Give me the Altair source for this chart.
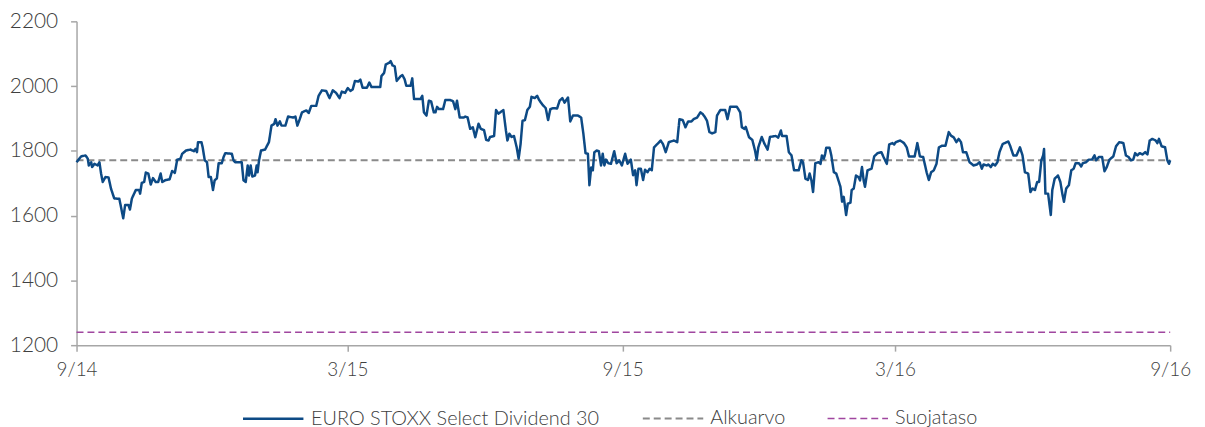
import altair as alt
import pandas as pd

# Days since 2014-09-01 and index levels
days = [
    0, 3.1, 6.0, 7.5, 8.2, 9.8, 10.4, 12.0, 14.1, 15.3,
    16.4, 17.5, 19.3, 21.4, 23.0, 25.2, 28.6, 29.7, 31.2, 32.5,
    34.7, 35.7, 37.0, 39.6, 41.8, 42.5, 43.6, 45.2, 46.3, 48.0,
    49.6, 51.1, 52.9, 54.6, 56.2, 57.3, 59.6, 62.2, 63.9, 65.7,
    67.3, 69.5, 70.6, 73.2, 76.2, 78.4, 79.5, 80.5, 81.2, 83.5,
    84.3, 85.7, 87.2, 88.3, 89.8, 91.2, 92.3, 93.8, 95.0, 97.1,
    98.3, 99.4, 103.8, 104.9, 106.0, 110.4, 111.6, 113.1, 114.4, 115.3,
    116.4, 117.5, 119.3, 120.4, 121.0, 122.0, 123.3, 126.0, 128.6, 130.3,
    132.1, 133.0, 134.3, 135.9, 137.0, 139.6, 141.4, 144.8, 146.3, 147.6,
    149.2, 150.7, 153.6, 155.2, 156.9, 160.2, 161.8, 164.0, 166.9, 169.1,
    171.3, 173.5, 175.8, 177.3, 179.5, 181.3, 183.1, 184.6, 186.1, 188.4,
    189.7, 191.2, 194.1, 195.7, 197.2, 203.0, 203.8, 205.6, 206.7, 209.0,
    210.0, 211.2, 212.7, 214.0,
    216.7, 217.8, 219.3, 220.4, 223.3, 224.4, 225.6, 229.9, 231.1, 232.2,
    233.9, 235.5, 237.0, 238.8, 239.9, 241.0, 242.2, 245.0, 246.5, 249.9,
    251.7, 253.2, 254.3, 256.1, 258.8, 259.8, 261.4, 263.1, 264.9, 266.5,
    268.7, 270.2, 272.4, 273.8, 275.4, 276.4, 279.1, 280.4, 282.0, 285.3,
    287.0, 288.0, 289.3, 290.8, 292.4, 294.2, 295.5, 296.8, 298.1, 299.7,
    301.3, 303.0, 304.1, 306.3, 307.9, 309.2, 311.4, 313.6, 315.2, 316.7,
    318.5, 321.2, 322.9, 324.7, 326.2, 328.5, 330.0, 331.8, 335.1, 337.3,
    338.8, 340.2, 341.8, 342.8, 344.0, 345.1, 346.1, 347.7, 349.1, 350.6,
    351.7, 352.8, 353.9, 355.4, 357.2, 359.4, 361.0, 362.7, 364.5, 366.7,
    368.3, 370.5, 372.0, 373.4, 374.3, 375.6, 377.2, 378.7, 380.0, 381.6,
    383.1, 384.5, 386.0, 388.2, 390.4, 392.0, 393.8, 395.9, 399.3, 401.5,
    403.0, 405.2, 407.0, 408.8, 411.0, 412.5, 414.8, 417.0, 418.5, 419.8,
    421.4, 423.0, 424.8, 427.0, 428.1, 430.3, 433.6, 435.1, 436.9, 441.4,
    443.6, 444.7, 446.4, 447.3, 449.5, 451.7, 453.5, 454.6, 455.7, 458.0,
    459.7, 461.9, 463.5, 467.3, 469.0, 470.8, 471.6, 474.6, 476.1, 477.9,
    479.6,
    482.7, 484.5, 485.6, 487.2, 488.9, 490.0, 491.2, 492.3, 493.8, 496.0,
    497.3, 498.2, 499.5, 500.4, 501.1, 503.3, 504.5, 506.2, 507.8, 508.9,
    510.6, 511.7, 512.8, 514.4, 515.5, 517.3, 518.1, 519.5, 521.0, 522.6,
    523.7, 525.0, 526.1, 527.0, 528.7, 531.4, 533.2, 535.4, 538.0, 539.4,
    541.6, 543.2, 545.3, 546.5, 547.6, 550.5, 553.1, 554.9, 556.4, 560.2,
    562.0, 563.7, 565.9, 568.2, 569.7, 571.2, 573.0, 574.8, 576.4, 578.6,
    580.8, 583.0, 584.5, 586.3, 588.1, 589.6, 591.2, 592.5, 594.7, 596.9,
    599.6, 601.8, 603.6, 605.1, 606.2, 608.4, 609.5, 611.1, 612.4, 614.0,
    615.5, 616.9, 619.0, 622.8, 624.0, 626.2, 628.3, 630.6, 632.3, 633.9,
    636.1, 637.6, 639.0, 640.6, 642.1, 643.4, 644.9, 646.1, 646.7, 647.6,
    649.4, 651.2, 652.2, 653.8, 656.0, 657.6, 658.9, 660.0, 661.5, 663.3,
    664.9, 666.5, 667.8, 670.0, 671.5, 672.6, 674.8, 676.6, 678.8, 680.4,
    681.5, 683.3, 685.5, 687.1, 688.6, 690.4, 693.0, 694.8, 697.0, 699.7,
    701.4, 703.2, 704.7, 706.3, 707.6, 709.1, 710.6, 712.5, 714.3, 715.8,
    717.3, 719.1, 721.3, 722.4, 723.5, 725.3, 727.6, 729.1, 730.2, 731.0,
]

index_values = [
    1765, 1783, 1786, 1776, 1755, 1765, 1750, 1760, 1755, 1765,
    1730, 1704, 1719, 1718, 1684, 1653, 1652, 1627, 1592, 1633,
    1633, 1619, 1653, 1679, 1679, 1668, 1701, 1704, 1733, 1730,
    1696, 1716, 1704, 1704, 1730, 1704, 1710, 1712, 1738, 1732,
    1773, 1776, 1791, 1801, 1804, 1799, 1806, 1796, 1827, 1827,
    1811, 1771, 1765, 1719, 1719, 1679, 1709, 1715, 1762, 1762,
    1781, 1793, 1791, 1771, 1765, 1765, 1709, 1704, 1755, 1724,
    1755, 1721, 1724, 1755, 1734, 1771, 1801, 1804, 1827, 1878,
    1883, 1898, 1878, 1891, 1878, 1878, 1906, 1903, 1906, 1878,
    1898, 1919, 1925, 1917, 1939, 1939, 1970, 1987, 1985, 1963,
    1987, 1979, 1963, 1983, 1979, 1994, 1985, 1990, 2016, 2014,
    2020, 1995, 1995, 2011, 1997, 1997, 2031, 2041, 2067, 2072,
    2077, 2064, 2061, 2016,
    2031, 2034, 2021, 2001, 2001, 2024, 1960, 1960, 1970, 1919,
    1909, 1955, 1953, 1919, 1919, 1936, 1929, 1929, 1957, 1957,
    1953, 1929, 1955, 1903, 1903, 1906, 1903, 1868, 1873, 1842,
    1884, 1868, 1864, 1834, 1832, 1843, 1846, 1926, 1915, 1926,
    1863, 1832, 1853, 1843, 1846, 1811, 1776, 1821, 1893, 1895,
    1926, 1936, 1967, 1963, 1970, 1957, 1943, 1932, 1895, 1929,
    1932, 1931, 1955, 1963, 1949, 1965, 1891, 1909, 1909, 1903,
    1852, 1793, 1791, 1694, 1749, 1740, 1796, 1801, 1799, 1755,
    1791, 1755, 1773, 1762, 1760, 1799, 1762, 1771, 1755, 1791,
    1760, 1773, 1725, 1740, 1694, 1745, 1745, 1710, 1742, 1734,
    1745, 1740, 1811, 1821, 1832, 1821, 1796, 1827, 1832, 1827,
    1898, 1895, 1873, 1891, 1891, 1898, 1903, 1919, 1914, 1906,
    1893, 1858, 1854, 1858, 1909, 1926, 1926, 1898, 1936, 1936,
    1919, 1873, 1868, 1874, 1842, 1834, 1801, 1773, 1811, 1843,
    1823, 1804, 1843, 1846, 1841, 1863, 1846, 1846, 1796, 1786,
    1740,
    1740, 1771, 1765, 1714, 1710, 1730, 1709, 1673, 1762, 1765,
    1760, 1786, 1776, 1791, 1810, 1810, 1786, 1734, 1730, 1714,
    1689, 1643, 1658, 1602, 1637, 1640, 1679, 1684, 1724, 1719,
    1709, 1750, 1709, 1689, 1740, 1745, 1783, 1793, 1796, 1781,
    1760, 1820, 1824, 1820, 1827, 1832, 1824, 1811, 1783, 1783,
    1824, 1783, 1781, 1734, 1710, 1734, 1740, 1760, 1811, 1816,
    1816, 1858, 1847, 1842, 1827, 1837, 1827, 1796, 1796, 1765,
    1755, 1758, 1765, 1745, 1758, 1755, 1758, 1750, 1760, 1755,
    1765, 1796, 1821, 1829, 1816, 1786, 1786, 1811, 1786, 1734,
    1730, 1673, 1684, 1679, 1704, 1704, 1771, 1786, 1806, 1668,
    1668, 1602, 1679, 1714, 1724, 1704, 1668, 1643, 1684, 1694,
    1740, 1745, 1762, 1762, 1752, 1762, 1765, 1773, 1773, 1786,
    1771, 1781, 1781, 1737, 1750, 1773, 1783, 1814, 1827, 1824,
    1786, 1781, 1771, 1773, 1793, 1786, 1793, 1789, 1796, 1789,
    1832, 1837, 1832, 1824, 1837, 1814, 1811, 1771, 1760, 1771,
]

series_names = ["EURO STOXX Select Dividend 30", "Alkuarvo", "Suojataso"]
series_colors = ["#0d4a85", "#8a8a8a", "#a0469f"]
initial_level = 1771
protection_level = 1240
y_ticks = [1200, 1400, 1600, 1800, 2000, 2200]

assert len(days) == len(index_values)

start = pd.Timestamp("2014-09-01")
end = pd.Timestamp("2016-09-01")
main = pd.DataFrame({
    "date": [start + pd.Timedelta(days=d) for d in days],
    "value": index_values,
    "series": series_names[0],
})
refs = pd.DataFrame({
    "date": [start, end, start, end],
    "value": [initial_level, initial_level, protection_level, protection_level],
    "series": [series_names[1]] * 2 + [series_names[2]] * 2,
})
df = pd.concat([refs, main], ignore_index=True)
df["date"] = df["date"].dt.strftime("%Y-%m-%dT%H:%M:%S")

font = "Lato"
text_color = "#404040"
axis_color = "#a6a6a6"

x_ticks = [
    alt.DateTime(year=2014, month=9, date=1),
    alt.DateTime(year=2015, month=3, date=1),
    alt.DateTime(year=2015, month=9, date=1),
    alt.DateTime(year=2016, month=3, date=1),
    alt.DateTime(year=2016, month=9, date=1),
]

legend_kwargs = dict(
    title=None, orient="none", direction="horizontal",
    legendX=166, legendY=368,
    symbolType="stroke", symbolSize=3700, symbolStrokeWidth=2,
    labelFont=font, labelFontSize=20, labelColor=text_color,
    labelFontWeight=300, labelOffset=6, columnPadding=38, labelLimit=500,
)

chart = alt.Chart(df).mark_line(strokeCap="butt", strokeJoin="round").encode(
    x=alt.X(
        "date:T",
        scale=alt.Scale(domain=[x_ticks[0], x_ticks[-1]], nice=False),
        axis=alt.Axis(
            title=None, values=x_ticks, format="%-m/%y", grid=False,
            domainColor=axis_color, tickColor=axis_color, tickSize=6,
            labelFont=font, labelFontSize=19, labelColor=text_color,
            labelPadding=10, labelFontWeight=300, domainWidth=1.5, tickWidth=1.5,
            labelFlush=False, labelOverlap=False,
        ),
    ),
    y=alt.Y(
        "value:Q",
        scale=alt.Scale(domain=[1200, 2200], nice=False, zero=False),
        axis=alt.Axis(
            title=None, values=y_ticks, format="d", grid=False,
            domainColor=axis_color, tickColor=axis_color, tickSize=6,
            labelFont=font, labelFontSize=21, labelColor=text_color,
            labelPadding=13, labelFontWeight=300, domainWidth=1.5, tickWidth=1.5,
        ),
    ),
    color=alt.Color(
        "series:N",
        scale=alt.Scale(domain=series_names, range=series_colors),
        legend=alt.Legend(**legend_kwargs),
    ),
    strokeDash=alt.StrokeDash(
        "series:N",
        scale=alt.Scale(domain=series_names, range=[[1, 0], [7, 4], [7, 4]]),
        legend=alt.Legend(**legend_kwargs),
    ),
    strokeWidth=alt.StrokeWidth(
        "series:N",
        scale=alt.Scale(domain=series_names, range=[2.5, 1.6, 1.6]),
        legend=None,
    ),
    order=alt.Order("date:T"),
).properties(
    width=1101,
    height=326,
    autosize=alt.AutoSizeParams(type="none"),
    padding={"left": 69, "top": 12, "right": 27, "bottom": 90},
).configure_view(stroke=None)

chart.save("out.html", embed_options={"renderer": "svg", "actions": False})
